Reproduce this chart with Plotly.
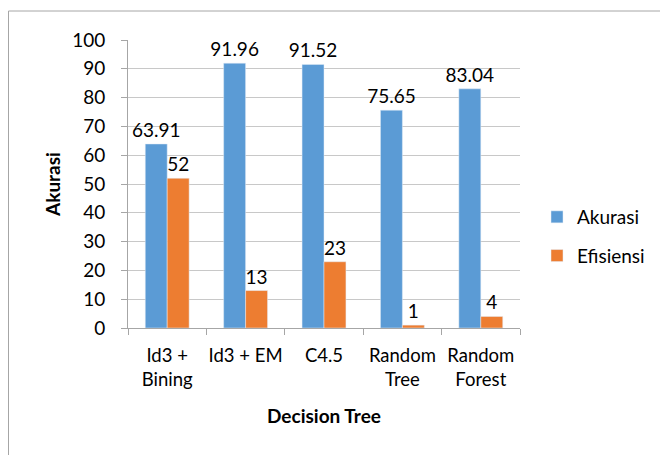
import plotly.graph_objects as go

categories = ["Id3 +<br>Bining", "Id3 + EM", "C4.5", "Random<br>Tree", "Random<br>Forest"]
akurasi = [63.91, 91.96, 91.52, 75.65, 83.04]
efisiensi = [52, 13, 23, 1, 4]
akurasi_labels = ["63.91", "91.96", "91.52", "75.65", "83.04"]
efisiensi_labels = ["52", "13", "23", "1", "4"]

FONT = "Lato"
FS = 19
fig = go.Figure()
fig.add_trace(go.Bar(name="Akurasi", x=categories, y=akurasi, text=akurasi_labels,
                     textposition="outside", marker_color="#5B9BD5", legendgroup="a",
                     constraintext="none",
                     textfont=dict(size=FS, color="#000000"), cliponaxis=False))
fig.add_trace(go.Bar(name="Efisiensi", x=categories, y=efisiensi, text=efisiensi_labels,
                     textposition="outside", marker_color="#ED7D31", legendgroup="b",
                     constraintext="none",
                     textfont=dict(size=FS, color="#000000"), cliponaxis=False))

# page body has an 8px margin: figure coordinates = page coordinates - 8
W, H = 660, 447
L, T = 120, 32
PR, PB = 512, 320
R, B = W - PR, H - PB
pw, ph = PR - L, PB - T

fig.update_layout(
    width=W, height=H,
    margin=dict(l=L, r=R, t=T, b=B),
    paper_bgcolor="white", plot_bgcolor="white",
    font=dict(family=FONT, size=FS, color="#000000"),
    barmode="group", bargap=0.44, bargroupgap=0,
    legend=dict(x=(529 - L) / pw, y=(PB - 190) / ph, xanchor="left", yanchor="top",
                font=dict(size=FS), tracegroupgap=11, bgcolor="rgba(0,0,0,0)"),
    xaxis=dict(showline=True, linecolor="#A6A6A6", linewidth=1, ticks="outside",
               tickson="boundaries", ticklen=6, tickcolor="#A6A6A6",
               ticklabelstandoff=11, tickangle=0, tickfont=dict(size=18.5),
               title=dict(text="<b>Decision Tree</b>", font=dict(size=FS), standoff=20)),
    yaxis=dict(range=[0, 100], dtick=10, showgrid=True, gridcolor="#C8C8C8",
               showline=True, linecolor="#A6A6A6", ticks="outside", ticklen=6,
               tickcolor="#A6A6A6", zeroline=False, ticklabelstandoff=12,
               title=dict(text="<b>Akurasi</b>", font=dict(size=FS), standoff=6)),
    shapes=[dict(type="rect", xref="paper", yref="paper",
                 x0=(0.5 - L) / pw, x1=(W + 20 - L) / pw,
                 y0=(PB - H - 20) / ph, y1=(PB - 3) / ph,
                 line=dict(color="#A6A6A6", width=1), fillcolor="rgba(0,0,0,0)", layer="below")],
)

fig.write_html("out.html")
